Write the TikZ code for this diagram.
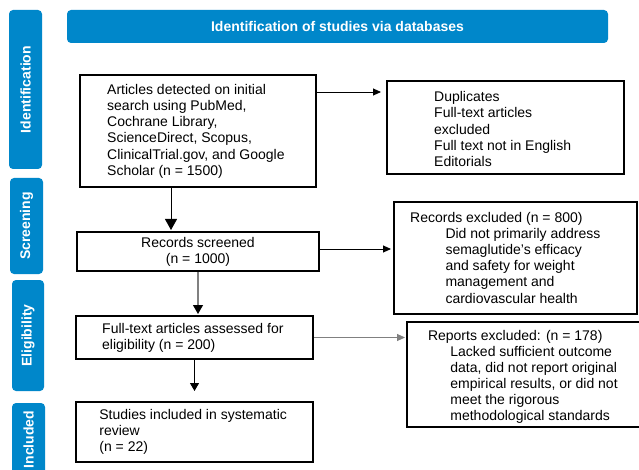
\documentclass[tikz,border=0pt]{standalone}
\usepackage{fontspec}
\setmainfont{Liberation Sans}
\usetikzlibrary{arrows.meta}
\definecolor{pblue}{RGB}{0,135,202}
\definecolor{lgray}{RGB}{128,128,128}
\begin{document}
\begin{tikzpicture}[x=1pt,y=-1pt,
  box/.style={draw=black, line width=2pt, inner sep=0pt, rectangle},
  tab/.style={fill=pblue, rounded corners=4pt, inner sep=0pt, text=white,
    font=\fontsize{14pt}{16pt}\selectfont\bfseries, rotate=90},
  hdr/.style={fill=pblue, rounded corners=4pt, inner sep=0pt, text=white,
    font=\fontsize{14pt}{16pt}\selectfont\bfseries},
  txt/.style={inner sep=0pt, align=left, anchor=base west,
    font=\fontsize{14pt}{16.2pt}\selectfont},
  ctxt/.style={inner sep=0pt, align=center, anchor=base,
    font=\fontsize{14pt}{16.2pt}\selectfont},
  arrBig/.style={line width=0.9pt, -{Triangle[length=11pt,width=12pt]}},
  arrMid/.style={line width=1.1pt, draw=lgray, -{Triangle[length=9pt,width=10pt,color=black]}},
  arrSm/.style={line width=0.9pt, -{Triangle[length=8pt,width=9pt]}},
  arrH/.style={line width=0.9pt, -{Triangle[length=8pt,width=7pt]}},
]
\useasboundingbox (0,0) rectangle (639,470);
\clip (0,0) rectangle (639,470);
\fill[white] (0,0) rectangle (639,470);

% side tabs
\node[tab, minimum width=159pt, minimum height=33pt] (tI) at (25.5,89.5) {Identification};
\node[tab, minimum width=96pt, minimum height=33pt] (tS) at (26.5,226) {Screening};
\node[tab, minimum width=111pt, minimum height=32pt] (tE) at (28,335.5) {Eligibility};
\node[tab, minimum width=73pt, minimum height=33pt] (tN) at (28.5,439.5) {Included};

% header
\node[hdr, minimum width=541pt, minimum height=33pt] (hd) at (337.5,26.5) {Identification of studies via databases};

% boxes
\node[box, minimum width=236pt, minimum height=112pt] (b1) at (198,131) {};
\node[box, minimum width=237pt, minimum height=93pt] (b2) at (505.5,127.5) {};
\node[box, minimum width=242pt, minimum height=39pt] (b3) at (198,251.5) {};
\node[box, minimum width=237pt, minimum height=43pt] (b4) at (194.5,337.5) {};
\node[box, minimum width=237pt, minimum height=60pt] (b5) at (194.5,432) {};
\node[box, minimum width=243pt, minimum height=112pt] (b6) at (515.5,258) {};
\node[box, minimum width=243pt, minimum height=105pt] (b7) at (528.5,374.5) {};

% texts (anchored at the baseline of their last line)
\node[txt] (t1) at (107,175.3) {Articles detected on initial\\search using PubMed,\\Cochrane Library,\\ScienceDirect, Scopus,\\ClinicalTrial.gov, and Google\\Scholar (n = 1500)};
\node[txt] (t2) at (434,166.5) {Duplicates\\Full-text articles\\excluded\\Full text not in English\\Editorials};
\node[ctxt] (t3) at (198,263.7) {Records screened\\(n = 1000)};
\node[txt] (t4) at (102,349.5) {Full-text articles assessed for\\eligibility (n = 200)};
\node[txt] (t5) at (99.2,451.7) {Studies included in systematic\\review\\(n = 22)};
\node[txt] (t6a) at (410,222.3) {Records excluded (n = 800)};
\node[txt] (t6b) at (445.3,303.1) {Did not primarily address\\semaglutide’s efficacy\\and safety for weight\\management and\\cardiovascular health};
\node[txt] (t7a) at (427.8,340) {Reports excluded: (n = 178)};
\node[txt] (t7b) at (450.2,420.8) {Lacked sufficient outcome\\data, did not report original\\empirical results, or did not\\meet the rigorous\\methodological standards};

% connectors
\coordinate (v1) at ([xshift=-27pt]b1.south);
\draw[arrBig, shorten >=1pt] (v1) -- (v1 |- b3.north);
\draw[arrMid, shorten >=1pt] (b3.south) -- (b3.south |- b4.north);
\draw[arrSm, shorten >=10pt] (b4.south) -- (b4.south |- b5.north);

\coordinate (h1) at ([yshift=-18pt]b1.north east);
\draw[arrH, shorten >=5pt] (h1) -- (h1 -| b2.west);
\coordinate (h2) at ([yshift=2.5pt]b3.east);
\draw[arrH, shorten >=2pt] (h2) -- (h2 -| b6.west);
\draw[arrH, draw=lgray, shorten >=1pt] (b4.east) -- (b4.east -| b7.west);
\end{tikzpicture}
\end{document}
